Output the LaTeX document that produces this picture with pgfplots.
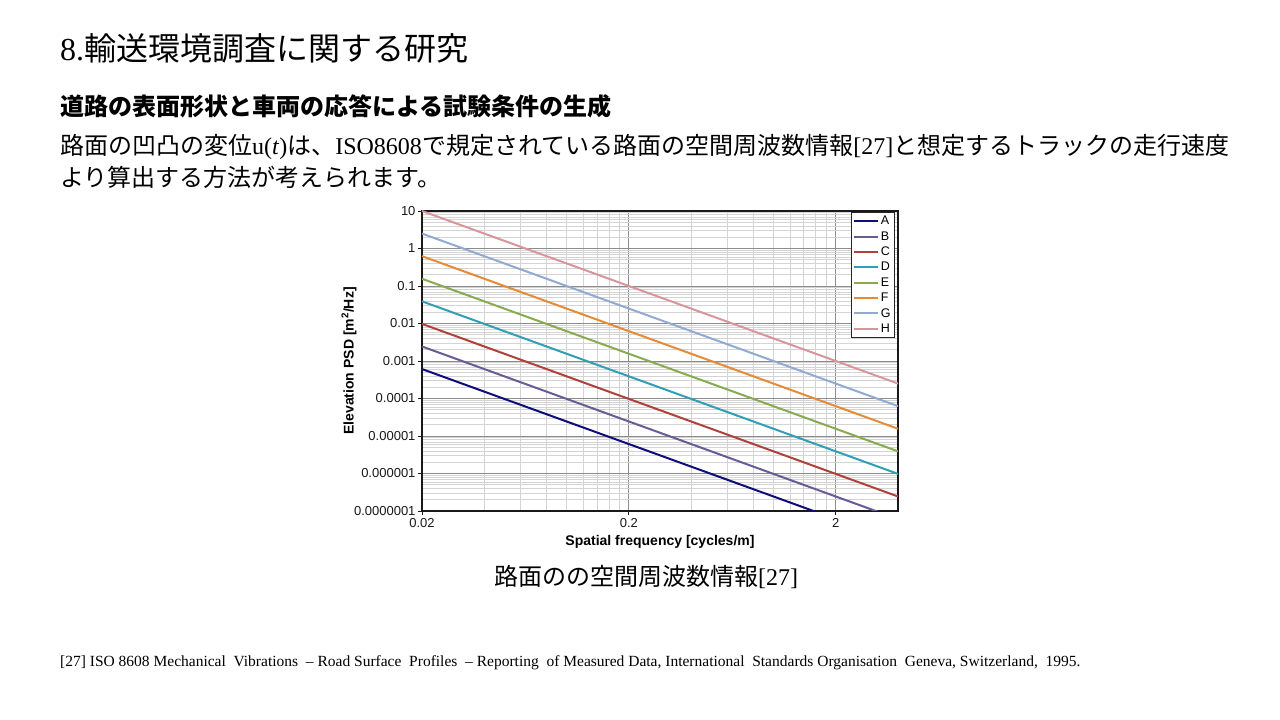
\documentclass[border=0pt]{standalone}
\usepackage{fontspec}
\setmainfont{Liberation Serif}
\setsansfont{Liberation Sans}
\newfontfamily\cjk{Noto Sans CJK JP}
\usepackage{pgfplots}
\pgfplotsset{compat=1.18}
\definecolor{cA}{HTML}{0E0E7A}
\definecolor{cB}{HTML}{6A5A96}
\definecolor{cC}{HTML}{B0403A}
\definecolor{cD}{HTML}{309FB5}
\definecolor{cE}{HTML}{88AA50}
\definecolor{cF}{HTML}{E58A35}
\definecolor{cG}{HTML}{92A9D2}
\definecolor{cH}{HTML}{D8969A}
\begin{document}
\begin{tikzpicture}
\fill[white] (0pt,0pt) rectangle (1280pt,720pt);
\node[anchor=base west, inner sep=0] at (60pt,659pt) {\fontsize{32}{38}\selectfont 8.{\cjk 輸送環境調査に関する研究}};
\node[anchor=base west, inner sep=0] at (60pt,604pt) {\fontsize{24}{28}\selectfont\cjk\bfseries 道路の表面形状と車両の応答による試験条件の生成};
\node[anchor=base west, inner sep=0] at (60pt,565pt) {\fontsize{24}{28}\selectfont {\cjk 路面の凹凸の変位}u(\textit{t}){\cjk は、}ISO8608{\cjk で規定されている路面の空間周波数情報}[27]{\cjk と想定するトラックの走行速度}};
\node[anchor=base west, inner sep=0] at (60pt,533pt) {\fontsize{24}{28}\selectfont\cjk より算出する方法が考えられます。};
\node[anchor=base, inner sep=0] at (646pt,134pt) {\fontsize{24}{28}\selectfont {\cjk 路面のの空間周波数情報}[27]};
\node[anchor=base west, inner sep=0] at (60pt,53pt) {\fontsize{15.5}{18}\selectfont [27] ISO 8608 Mechanical\ \ Vibrations\ \ -- Road Surface\ \ Profiles\ \ -- Reporting\ \ of Measured Data, International\ \ Standards Organisation\ \ Geneva, Switzerland,\ \ 1995.};
\begin{axis}[
  at={(422pt,209pt)}, anchor=south west,
  scale only axis, width=476pt, height=300pt,
  xmode=log, ymode=log,
  xmin=0.02, xmax=4, ymin=1e-7, ymax=10,
  xtick={0.02,0.2,2}, xticklabels={0.02,0.2,2},
  minor xtick={0.04,0.06,0.08,0.1,0.12,0.14,0.16,0.18,0.4,0.6,0.8,1,1.2,1.4,1.6,1.8,4},
  ytick={1e-7,1e-6,1e-5,1e-4,1e-3,1e-2,1e-1,1,10},
  yticklabels={0.0000001,0.000001,0.00001,0.0001,0.001,0.01,0.1,1,10},
  minor ytick={2e-7,3e-7,4e-7,5e-7,6e-7,7e-7,8e-7,9e-7,
               2e-6,3e-6,4e-6,5e-6,6e-6,7e-6,8e-6,9e-6,
               2e-5,3e-5,4e-5,5e-5,6e-5,7e-5,8e-5,9e-5,
               2e-4,3e-4,4e-4,5e-4,6e-4,7e-4,8e-4,9e-4,
               2e-3,3e-3,4e-3,5e-3,6e-3,7e-3,8e-3,9e-3,
               2e-2,3e-2,4e-2,5e-2,6e-2,7e-2,8e-2,9e-2,
               0.2,0.3,0.4,0.5,0.6,0.7,0.8,0.9,
               2,3,4,5,6,7,8,9},
  grid=both,
  major grid style={draw=black!45, line width=0.8pt},
  minor grid style={draw=black!17, line width=0.6pt},
  xtick pos=bottom, ytick pos=left,
  tick align=outside, major tick length=4pt, minor tick length=0pt,
  axis line style={black!90, line width=1.1pt},
  tick style={black!90, line width=0.9pt},
  ticklabel style={font=\sffamily\fontsize{13}{15}\selectfont, text=black!90},
  yticklabel style={xshift=1pt},
  xlabel={Spatial frequency [cycles/m]},
  ylabel={Elevation PSD [m\textsuperscript{2}/Hz]},
  label style={font=\sffamily\bfseries\fontsize{14}{16}\selectfont},
  xlabel style={at={(axis description cs:0.5,-0.1033)}, anchor=center},
  ylabel style={at={(axis description cs:-0.1534,0.5)}, anchor=center},
  legend style={at={(1,1)}, anchor=north east, xshift=-3pt, yshift=-1pt,
    font=\sffamily\fontsize{12.5}{14}\selectfont, draw=black!85, line width=0.7pt,
    inner sep=2pt, row sep=1.2pt},
  legend cell align=left,
  legend image code/.code={\draw[#1, line width=2pt] (0pt,0pt) -- (24pt,0pt);},
  every axis plot/.append style={line width=2pt},
]
\addplot[cA] coordinates {(0.02,6.1e-4) (4,1.525e-8)};
\addplot[cB] coordinates {(0.02,2.44e-3) (4,6.1e-8)};
\addplot[cC] coordinates {(0.02,9.76e-3) (4,2.44e-7)};
\addplot[cD] coordinates {(0.02,3.9e-2) (4,9.76e-7)};
\addplot[cE] coordinates {(0.02,0.156) (4,3.9e-6)};
\addplot[cF] coordinates {(0.02,0.625) (4,1.56e-5)};
\addplot[cG] coordinates {(0.02,2.5) (4,6.25e-5)};
\addplot[cH] coordinates {(0.02,10) (4,2.5e-4)};
\legend{A,B,C,D,E,F,G,H}
\end{axis}
\end{tikzpicture}
\end{document}
